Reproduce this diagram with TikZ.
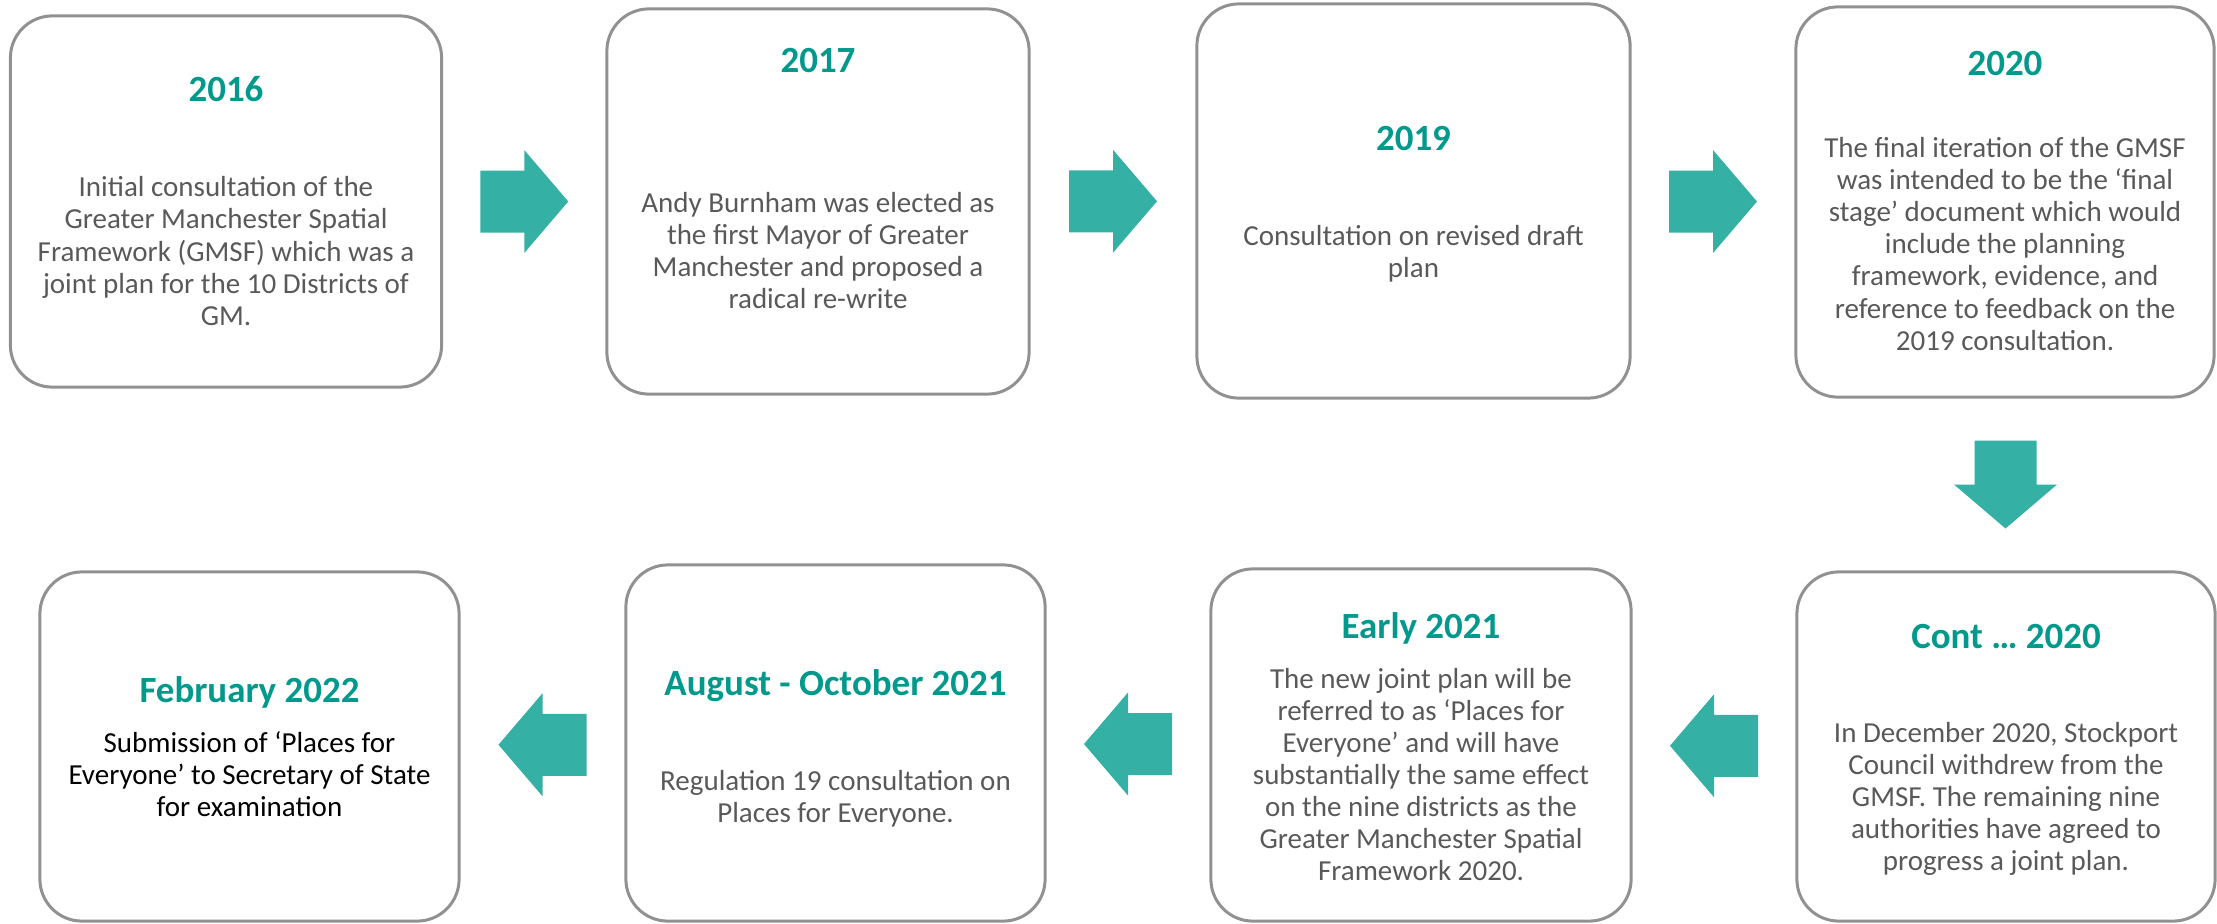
\documentclass[tikz,border=0pt]{standalone}
\usepackage{fontspec}
\setmainfont{Carlito}
\usetikzlibrary{calc}
\definecolor{headteal}{RGB}{0,153,140}
\definecolor{arrowteal}{RGB}{52,176,164}
\definecolor{boxline}{RGB}{145,145,145}
\definecolor{bodygray}{RGB}{89,89,89}
\tikzset{
  stage/.style={draw=boxline, line width=0.03cm, rounded corners=0.42cm, inner sep=0pt},
  stagetitle/.style={anchor=base, inner sep=0pt, text=headteal, font=\fontsize{10.5}{12}\selectfont\bfseries},
  stagetext/.style={anchor=base, inner sep=0pt, align=center, text=bodygray, font=\fontsize{8.25}{9.1}\selectfont},
  pics/blockarrow/.style={code={
    \fill[arrowteal] (-44,-31) -- (0,-31) -- (0,-51.5) -- (44,0) -- (0,51.5) -- (0,31) -- (-44,31) -- cycle;
  }}
}

\begin{document}
\begin{tikzpicture}[x=0.01cm,y=-0.01cm]
\useasboundingbox (0,0) rectangle (2217,924);

% top row
\node[stage, minimum width=4.31cm, minimum height=3.71cm] (y16) at (226,201.5) {};
\node[stage, minimum width=4.22cm, minimum height=3.85cm] (y17) at (818,201.5) {};
\node[stage, minimum width=4.33cm, minimum height=3.94cm] (y19) at (1413.5,201) {};
\node[stage, minimum width=4.18cm, minimum height=3.90cm] (y20) at (2005,202) {};

% bottom row
\node[stage, minimum width=4.18cm, minimum height=3.49cm] (c20) at (2006,746.5) {};
\node[stage, minimum width=4.20cm, minimum height=3.52cm] (e21) at (1421,745) {};
\node[stage, minimum width=4.19cm, minimum height=3.56cm] (ao21) at (835.5,743) {};
\node[stage, minimum width=4.19cm, minimum height=3.49cm] (f22) at (249.5,746.5) {};

% arrows
\pic (a1) at ($(y16.east)!.5!(y17.west)$) {blockarrow};
\pic (a2) at ($(y17.east)!.5!(y19.west)$) {blockarrow};
\pic (a3) at ($(y19.east)!.5!(y20.west)$) {blockarrow};
\pic[rotate=270] (a4) at ($(y20.south)!.5!(c20.north)$) {blockarrow};
\pic[rotate=180] (a5) at ($(c20.west)!.5!(e21.east)$) {blockarrow};
\pic[rotate=180] (a6) at ($(e21.west)!.5!(ao21.east)$) {blockarrow};
\pic[rotate=180] (a7) at ($(ao21.west)!.5!(f22.east)$) {blockarrow};

% titles
\node[stagetitle] (t16) at (226,101) {2016};
\node[stagetitle] (t17) at (818,73) {2017};
\node[stagetitle] (t19) at (1413.5,150) {2019};
\node[stagetitle] (t20) at (2005,75) {2020};
\node[stagetitle] (tc20) at (2006,648) {Cont … 2020};
\node[stagetitle] (te21) at (1421,638) {Early 2021};
\node[stagetitle] (tao21) at (835.5,695) {August - October 2021};
\node[stagetitle] (tf22) at (249.5,702) {February 2022};

% texts (base = last line)
\node[stagetext] (d16) at (226,325) {Initial consultation of the\\Greater Manchester Spatial\\Framework (GMSF) which was a\\joint plan for the 10 Districts of\\GM.};
\node[stagetext] (d17) at (818,308) {Andy Burnham was elected as\\the first Mayor of Greater\\Manchester and proposed a\\radical re-write};
\node[stagetext] (d19) at (1413.5,277) {Consultation on revised draft\\plan};
\node[stagetext] (d20) at (2005,350) {The final iteration of the GMSF\\was intended to be the ‘final\\stage’ document which would\\include the planning\\framework, evidence, and\\reference to feedback on the\\2019 consultation.};
\node[stagetext] (dc20) at (2006,870) {In December 2020, Stockport\\Council withdrew from the\\GMSF. The remaining nine\\authorities have agreed to\\progress a joint plan.};
\node[stagetext] (de21) at (1421,880) {The new joint plan will be\\referred to as ‘Places for\\Everyone’ and will have\\substantially the same effect\\on the nine districts as the\\Greater Manchester Spatial\\Framework 2020.};
\node[stagetext] (dao21) at (835.5,822) {Regulation 19 consultation on\\Places for Everyone.};
\node[stagetext, text=black] (df22) at (249.5,816) {Submission of ‘Places for\\Everyone’ to Secretary of State\\for examination};

\end{tikzpicture}
\end{document}
